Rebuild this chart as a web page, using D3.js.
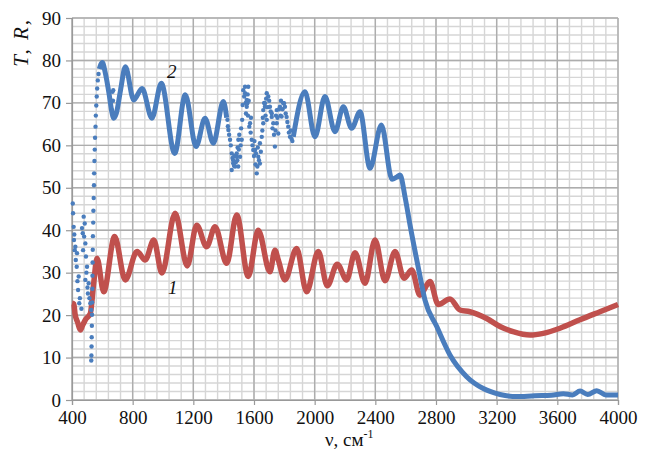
<!DOCTYPE html>
<html>
<head>
<meta charset="utf-8">
<script src="https://cdn.jsdelivr.net/npm/d3@7"></script>
<style>
  body { margin: 0; background: #fff; }
  text { font-family: "Liberation Serif", "Times New Roman", serif; fill: #111; }
</style>
</head>
<body>
<div id="container"></div>
<script>
// Width and height
var w = 647;
var h = 450;

// Axis ticks
var xTicks = [400, 800, 1200, 1600, 2000, 2400, 2800, 3200, 3600, 4000];
var yTicks = [0, 10, 20, 30, 40, 50, 60, 70, 80, 90];

// Curve 1 (red), wavenumber / value pairs
var redV = [400, 412, 420, 438, 455, 470, 488, 521, 543, 565, 609, 681, 751, 829, 883, 939, 993, 1080, 1160, 1222, 1288, 1343, 1420, 1486, 1562, 1628, 1705, 1738, 1760, 1804, 1881, 1947, 2024, 2083, 2149, 2211, 2266, 2332, 2398, 2464, 2530, 2589, 2640, 2694, 2760, 2815, 2892, 2958, 3024, 3134, 3222, 3308, 3420, 3507, 3617, 3749, 3881, 4000];
var redT = [22.8, 22.6, 20.3, 18.2, 16.5, 17.6, 18.9, 20.4, 27.5, 33.4, 25.5, 38.5, 28.3, 35, 33, 37.7, 29.9, 44, 31.6, 41.2, 36.1, 40.8, 32.2, 43.6, 29.1, 40, 30.2, 35.3, 33, 28.3, 35.7, 25.5, 35, 26.9, 32, 28.3, 34.7, 27.5, 37.7, 28.1, 35, 28.7, 30.6, 24.7, 27.9, 22.5, 23.8, 21.2, 20.8, 19.2, 17.3, 16.1, 15.3, 15.7, 16.9, 18.9, 20.8, 22.5];

// Curve 2 (blue), dense parts
var blueV1 = [580, 600, 620, 645, 662, 675, 692, 720, 752, 807, 862, 927, 989, 1077, 1147, 1218, 1277, 1332, 1398, 1420];
var blueT1 = [78, 79.5, 77, 72, 68, 66.4, 67.5, 73, 78.5, 70.7, 73.4, 66.4, 74.6, 58.1, 71.9, 59.7, 66.4, 60.5, 70.3, 66.5];
var blueV2 = [1859, 1936, 2002, 2068, 2134, 2189, 2244, 2299, 2365, 2440, 2510, 2540, 2563, 2596, 2630, 2690, 2727, 2805, 2892, 3002, 3112, 3222, 3332, 3450, 3560, 3640, 3700, 3750, 3800, 3860, 3920, 4000];
var blueT2 = [62, 72.6, 62, 71.5, 63.2, 69.1, 64, 67.9, 54.6, 64.8, 52, 52.5, 53, 47.8, 41, 30, 23.6, 17.3, 10.6, 5.5, 2.7, 1.3, 0.8, 1, 1.1, 1.5, 1.2, 2.1, 1.3, 2.2, 1.2, 1.2];

// Curve 2 (blue), scattered points
var blueDotV = [405, 407, 411, 413, 415, 418, 422, 425, 431, 433, 436, 440, 444, 448, 452, 462, 466, 471, 473, 477, 480, 484, 488, 488, 492, 495, 499, 502, 505, 510, 515, 521, 527,
  527, 528, 529, 530, 531, 532, 533, 534, 535, 536, 537, 538, 540, 541, 543, 545, 546, 548, 550, 552, 555, 557, 560, 563, 566, 570, 575,
  664, 667, 670, 672, 680,
  1425, 1428, 1431, 1436, 1442, 1447, 1453, 1453, 1458, 1463, 1463, 1468, 1470, 1475, 1480, 1486, 1486, 1490, 1492, 1496, 1497, 1500, 1503, 1508, 1512, 1515, 1519, 1522, 1525, 1529, 1535, 1541, 1541, 1545, 1547, 1552, 1552, 1556, 1558, 1560, 1562, 1565, 1569, 1574, 1578, 1580, 1585, 1590, 1595, 1600, 1603, 1607, 1610, 1613, 1618, 1622, 1625, 1628, 1633, 1639, 1639, 1645, 1651, 1655, 1658, 1661, 1661, 1667, 1672, 1672, 1676, 1680, 1684, 1684, 1690, 1694, 1700, 1705, 1710, 1717, 1717, 1722, 1727, 1732, 1738, 1742, 1745, 1750, 1750, 1755, 1760, 1765, 1771, 1775, 1778, 1782, 1788, 1793, 1798, 1804, 1809, 1815, 1820, 1826, 1830, 1837, 1842, 1848, 1853];
var blueDotT = [46.3, 44, 40.8, 37.7, 39, 35.3, 36.1, 33, 31.4, 34.6, 28, 25.9, 29.1, 22.8, 24, 21.5, 40.5, 39.3, 35.3, 43.2, 38.5, 41.6, 36.9, 28.3, 33.8, 30, 31.4, 26.5, 25.1, 27.5, 24, 22.8, 21.2,
  9.3, 10.5, 12.6, 14.8, 17.5, 20.1, 23, 26.2, 29.3, 32.4, 35.4, 38.6, 41.8, 44.6, 47.6, 50.6, 53.4, 56.3, 59, 61.8, 64.4, 67, 69.4, 71.5, 73.4, 75.3, 76.8,
  68.3, 72.6, 70.5, 73, 66.8,
  66, 64.5, 63.6, 62.5, 61.3, 60, 58.1, 54.2, 57, 55.8, 56.5, 55.2, 57.5, 55, 56, 57.3, 58.1, 56.5, 59.5, 55, 61.3, 59, 62.5, 57.3, 60, 64, 61.3, 66, 69.5, 73, 71.5, 73.8, 72.3, 70, 67.5, 70.7, 69.1, 69.9, 72, 67, 73.8, 70.5, 64.4, 65.2, 63, 66.5, 61.3, 60, 58.9, 57.5, 61, 58.9, 55.5, 58.1, 53.4, 55, 59.5, 57.3, 56.5, 60.5, 55.7, 58.5, 62, 63.5, 66.5, 65.2, 68.3, 70, 69.1, 69.9, 67, 71, 72.3, 66, 69, 71.5, 70.5, 69.1, 68, 66.7, 67.5, 64, 65.2, 62.5, 59.7, 63.5, 67, 68.3, 65.2, 66.5, 62.8, 68.5, 69.1, 67, 70.5, 66.8, 68.5, 69.9, 69.9, 69.1, 67.5, 66.7, 65.5, 64.4, 63, 62, 63.5, 61.5, 61];

var redColor = "#c0504d";
var blueColor = "#4a7dbd";

// Scales
var x = d3.scaleLinear().domain([400, 4000]).range([72, 618]);
var y = d3.scaleLinear().domain([0, 90]).range([400, 18]);

// Create SVG
var svg = d3.select("#container")
  .append("svg")
  .attr("width", w)
  .attr("height", h);

// Gridlines: minor then major
var grid = svg.append("g");
grid.selectAll(".vmin")
  .data(d3.range(400, 4001, 80))
  .enter().append("line")
  .attr("x1", d => x(d)).attr("x2", d => x(d))
  .attr("y1", y(0)).attr("y2", y(90))
  .attr("stroke", "#d6d6d6").attr("stroke-width", 1.4);
grid.selectAll(".hmin")
  .data(d3.range(0, 91, 2))
  .enter().append("line")
  .attr("x1", x(400)).attr("x2", x(4000))
  .attr("y1", d => y(d)).attr("y2", d => y(d))
  .attr("stroke", "#d6d6d6").attr("stroke-width", 1.4);
grid.selectAll(".vmaj")
  .data(xTicks)
  .enter().append("line")
  .attr("x1", d => x(d)).attr("x2", d => x(d))
  .attr("y1", y(0)).attr("y2", y(90))
  .attr("stroke", "#adadad").attr("stroke-width", 1.4);
grid.selectAll(".hmaj")
  .data(yTicks)
  .enter().append("line")
  .attr("x1", x(400)).attr("x2", x(4000))
  .attr("y1", d => y(d)).attr("y2", d => y(d))
  .attr("stroke", "#adadad").attr("stroke-width", 1.4);

// Axes
var yAxis = svg.append("g")
  .attr("transform", "translate(" + x(400) + ",0)")
  .call(d3.axisLeft(y).tickValues(yTicks).tickFormat(d3.format("d")).tickSize(6).tickPadding(5));
var xAxis = svg.append("g")
  .attr("transform", "translate(0," + y(0) + ")")
  .call(d3.axisBottom(x).tickValues(xTicks).tickFormat(d3.format("d")).tickSize(5).tickPadding(6));
[yAxis, xAxis].forEach(function(a) {
  a.select(".domain").attr("stroke", "#999").attr("stroke-width", 1.2);
  a.selectAll(".tick line").attr("stroke", "#999").attr("stroke-width", 1.2);
  a.selectAll("text")
    .style("font-family", "'Liberation Serif', 'Times New Roman', serif")
    .style("font-size", "19px")
    .attr("fill", "#111");
});

// Path generator
var line = d3.line()
  .x(d => x(d[0]))
  .y(d => y(d[1]))
  .curve(d3.curveMonotoneX);

// Curve 1
svg.append("path")
  .datum(d3.zip(redV, redT))
  .attr("d", line)
  .attr("fill", "none")
  .attr("stroke", redColor)
  .attr("stroke-width", 5.5)
  .attr("stroke-linejoin", "round");

// Curve 2
[d3.zip(blueV1, blueT1), d3.zip(blueV2, blueT2)].forEach(function(seg) {
  svg.append("path")
    .datum(seg)
    .attr("d", line)
    .attr("fill", "none")
    .attr("stroke", blueColor)
    .attr("stroke-width", 5)
    .attr("stroke-linejoin", "round");
});
svg.selectAll(".bdot")
  .data(d3.zip(blueDotV, blueDotT))
  .enter().append("circle")
  .attr("cx", d => x(d[0]))
  .attr("cy", d => y(d[1]))
  .attr("r", 2.2)
  .attr("fill", blueColor);

// Curve labels
svg.append("text")
  .attr("x", 167).attr("y", 78)
  .style("font-size", "19px").style("font-style", "italic")
  .text("2");
svg.append("text")
  .attr("x", 168).attr("y", 294)
  .style("font-size", "19px").style("font-style", "italic")
  .text("1");

// Axis titles
svg.append("text")
  .attr("transform", "translate(28,18) rotate(-90)")
  .attr("text-anchor", "end")
  .style("font-size", "21px")
  .style("letter-spacing", "2px")
  .style("font-style", "italic")
  .text("T, R,");
var xt = svg.append("text")
  .attr("x", 325).attr("y", 446)
  .style("font-size", "19px");
xt.append("tspan").text("ν, см");
xt.append("tspan").attr("dy", -8).style("font-size", "12px").text("-1");
</script>
</body>
</html>
